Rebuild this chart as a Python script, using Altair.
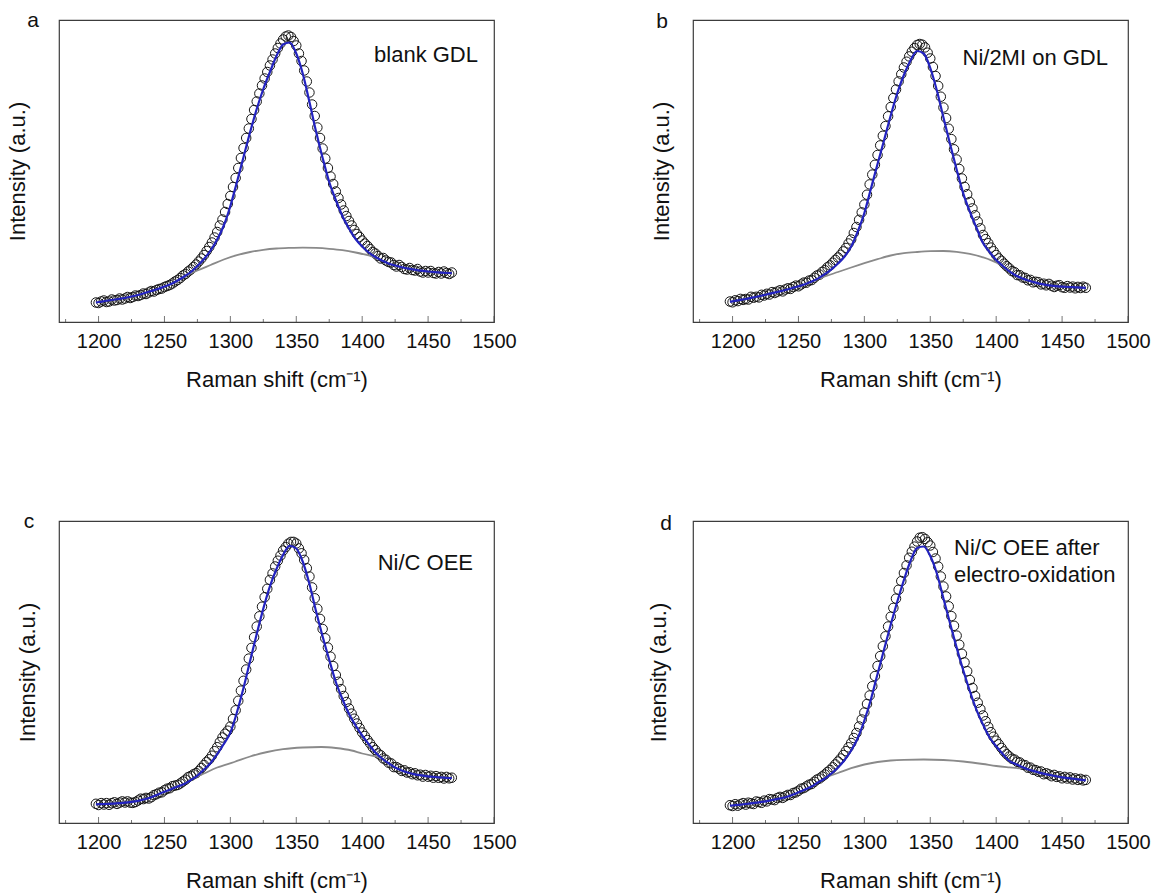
import altair as alt
import pandas as pd

# ---------------- data (intensity in arbitrary units) ----------------
SHIFT = [1198, 1200, 1202, 1204, 1206, 1208, 1210, 1212, 1214, 1216, 1218, 1220, 1222, 1224, 1226, 1228,
         1230, 1232, 1234, 1236, 1238, 1240, 1242, 1244, 1246, 1248, 1250, 1252, 1254, 1256, 1258,
         1260, 1262, 1264, 1266, 1268, 1270, 1272, 1274, 1276, 1278, 1280, 1282, 1284, 1286, 1288,
         1290, 1292, 1294, 1296, 1298, 1300, 1302, 1304, 1306, 1308, 1310, 1312, 1314, 1316, 1318,
         1320, 1322, 1324, 1326, 1328, 1330, 1332, 1334, 1336, 1338, 1340, 1342, 1344, 1346, 1348,
         1350, 1352, 1354, 1356, 1358, 1360, 1362, 1364, 1366, 1368, 1370, 1372, 1374, 1376, 1378,
         1380, 1382, 1384, 1386, 1388, 1390, 1392, 1394, 1396, 1398, 1400, 1402, 1404, 1406, 1408,
         1410, 1412, 1414, 1416, 1418, 1420, 1422, 1424, 1426, 1428, 1430, 1432, 1434, 1436, 1438,
         1440, 1442, 1444, 1446, 1448, 1450, 1452, 1454, 1456, 1458, 1460, 1462, 1464, 1466, 1468]

DATA_A = [19.5, 19, 20.5, 21.5, 20, 20.5, 22.5, 21.5, 22, 23.5, 22.5, 23.5, 25, 24, 25, 26.5,
          26, 27, 28.5, 28, 29.5, 31, 30.5, 32, 33, 33.5, 35, 36, 37, 38.5, 40.5,
          42, 44, 46.5, 48, 50.5, 52.5, 55, 57.5, 60.5, 63.5, 67, 71, 75, 79.5, 84.5,
          90, 96.5, 102.5, 110, 118, 126, 135, 144, 154, 164, 174, 184, 193.5, 203, 212,
          220.5, 228.5, 236.5, 243.5, 250, 256.5, 262.5, 268.5, 274, 278.5, 282.5, 285.5, 286.5, 285, 281,
          276.5, 268.5, 261, 251.5, 240.5, 229.5, 217.5, 206, 194.5, 184, 173.5, 163.5, 154, 145.5, 138,
          130.5, 124, 117.5, 111.5, 106, 101, 96.5, 92, 88, 85, 81.5, 78.5, 76, 73, 70,
          68.5, 66, 63.5, 64, 61.5, 60, 59.5, 57, 55.5, 57, 55, 53, 52.5, 54, 52,
          51.5, 53, 50.5, 49.5, 51, 49.5, 51, 49, 48.5, 50, 48.5, 50.5, 49, 48, 49.5]

DATA_B = [20.5, 19.7, 21.7, 20.9, 23.1, 22.1, 23, 22.5, 25.2, 24.3, 25.2, 24.6, 27.2, 26.5, 28.2, 27.5,
          29.9, 29, 30.4, 31.7, 30.6, 32.5, 33.7, 33.1, 35, 36.4, 35.7, 37.5, 39.4, 39.3, 41.4,
          41.9, 44.2, 46.5, 47.4, 50.1, 51.8, 54.7, 56.6, 59.3, 62.1, 64.5, 67.3, 70.6, 74, 78.5,
          82.5, 89, 95, 102.2, 109.6, 117.5, 127.3, 137.6, 147.4, 157.2, 167, 176.6, 186.2, 195.9, 205.7,
          215, 224, 232.5, 240.6, 247.8, 254.5, 260.3, 265.6, 270.3, 273.9, 277, 278, 277.3, 274.6, 269.3,
          263.5, 255, 246, 236.1, 225.3, 214.5, 203.9, 193.3, 182.9, 172.7, 162.5, 153, 143.5, 135.1, 127.8,
          120, 113.6, 106.7, 100.4, 93.7, 87, 82.9, 78.8, 74.4, 70.7, 67, 63.6, 61.2, 58.4, 55.8,
          53.6, 50.9, 49.8, 46.9, 46.7, 44.5, 44.1, 41.7, 42.1, 39.7, 40.2, 39.8, 37.6, 38.3, 36.7,
          38.1, 36.3, 35, 36.3, 36.8, 34.8, 34.2, 35.9, 34.5, 35.4, 33.7, 35.1, 34, 35.3, 34.2]

DATA_C = [19.2, 18, 19.9, 18.5, 19.9, 18.2, 19.8, 20.7, 19.1, 20.4, 21.6, 20.5, 21.6, 20.4, 20.1, 21,
          22.5, 24.3, 23.9, 25.1, 24.5, 25.8, 27.9, 28.8, 30.3, 30.7, 32.8, 34.3, 34.8, 36.8, 37.4,
          38, 39.5, 41.5, 43.3, 45.9, 47, 48.7, 49.9, 52, 55, 58, 61.1, 63.7, 67.3, 71.8,
          75.8, 80.9, 85.5, 89.3, 92.3, 96.4, 104.1, 112.7, 122.2, 132.4, 142.2, 153.5, 164.4, 175.1, 185.8,
          196.5, 206.7, 216.3, 225.8, 234.2, 243.1, 249.6, 256.5, 262.3, 267.4, 272.5, 275.9, 279.3, 281.1, 281.1,
          279.5, 274.6, 269.7, 263.1, 254.8, 246.5, 235.6, 224.7, 214.2, 204.1, 194, 184.7, 175.4, 166.3, 156.9,
          148, 141.2, 133.9, 127, 121, 114.5, 109.4, 104.3, 99.5, 95, 90.5, 87, 83, 79.6, 75.8,
          73, 69.6, 67.7, 64.6, 63.2, 60.3, 59.6, 55.9, 55.9, 54.3, 52.1, 52.7, 50.5, 50.8, 48.8,
          49.7, 47.7, 48.3, 46.4, 48, 46.3, 47.2, 45.3, 46.9, 45.2, 46.1, 44.5, 46.1, 44.7, 45.3]

DATA_D = [17.8, 17, 18.8, 17.3, 18.7, 19.9, 18.4, 20.3, 19.6, 19, 21.5, 21, 20.2, 22.4, 21.6, 23.9,
          23.5, 22.9, 25, 26.1, 25.1, 26.7, 28.1, 28, 30, 30.6, 32.2, 34.3, 34.9, 36.6, 38.3,
          39, 41.2, 43.4, 44.5, 46.5, 48.5, 51, 53, 55.7, 58.6, 61.5, 64.5, 68, 71.9, 75.7,
          80, 85, 90, 96.5, 103.5, 110.5, 119, 127.5, 136.8, 146.9, 157, 166.9, 176.8, 186.7, 196.5,
          206.3, 215.1, 224.4, 233.3, 241.9, 250, 257.6, 265.2, 271.3, 276.4, 281.5, 285.3, 285.8, 284.1, 280.8,
          277.5, 271, 264.5, 256.5, 246.5, 236.5, 226.6, 216.7, 206.9, 197.2, 187.4, 178.3, 169.2, 160.6, 151.8,
          143, 135, 127, 120.3, 113.9, 107.5, 101.8, 96.1, 90.8, 86.3, 82.3, 78.7, 75.1, 71.6, 68.8,
          66.5, 64.2, 63.4, 61.2, 60.5, 58.3, 57.8, 55.3, 55.4, 53.2, 52.9, 51.2, 51.5, 48.8, 49.7,
          48.6, 46.8, 48.1, 46.1, 46.7, 44.7, 46.1, 44.5, 45.6, 43.5, 44.6, 43.1, 44.1, 42.6, 43.1]

FIT_SHIFT = [1198, 1200, 1205, 1210, 1215, 1220, 1225, 1230, 1235, 1240, 1245, 1250, 1255, 1260, 1265,
             1270, 1275, 1280, 1285, 1290, 1295, 1300, 1305, 1310, 1315, 1320, 1325, 1330, 1335, 1340,
             1345, 1350, 1355, 1360, 1365, 1370, 1375, 1380, 1385, 1390, 1395, 1400, 1405, 1410, 1415,
             1420, 1425, 1430, 1435, 1440, 1445, 1450, 1455, 1460, 1465, 1468]

FIT_A = [19.5, 20, 21, 22, 23, 24, 25.5, 27, 29, 31, 33, 35.5, 38, 41.5, 45.5,
         50, 56, 63, 71.5, 82.5, 96.5, 116, 140, 165, 190, 213, 233, 250, 266, 277.5,
         279.5, 268.5, 248, 220, 190.5, 164, 140, 122, 106, 93.5, 83, 75.5, 69.5, 65, 61.5,
         58.5, 56.5, 54.7, 53.3, 52.3, 51.3, 50.5, 49.9, 49.4, 49, 48.8]

FIT_B = [20.3, 20.7, 21.9, 23, 24.3, 25.8, 27.3, 28.9, 30.4, 32, 33.8, 35.7, 37.8, 40.4, 43.6,
         47.8, 52.6, 58.5, 65.5, 75.5, 90.5, 109, 133.5, 158, 182, 206.5, 229, 247, 261.5, 271,
         268.5, 254, 231.5, 204.5, 178, 152.5, 128.7, 110.5, 94.5, 79, 70, 62, 56, 50.6, 46.5,
         43.5, 41.3, 39.4, 37.8, 36.6, 35.9, 35.4, 35, 34.7, 34.4, 34.2]

FIT_C = [18.7, 18.8, 19, 19.3, 19.8, 20.3, 21.1, 22.2, 23.7, 25.8, 28.6, 31.3, 33.8, 36.5, 39,
         43, 47.3, 53.5, 60, 68.8, 79, 90.4, 110.8, 135.2, 162.3, 189, 214.4, 236.6, 254, 268,
         277.2, 274.5, 261, 239, 211.7, 186.5, 163.2, 141, 124, 109, 97.5, 87.5, 78.8, 70.5, 64.5,
         59.8, 55.5, 52.6, 50.3, 48.7, 47.6, 46.6, 46, 45.5, 45, 44.8]

FIT_D = [17.3, 17.5, 18.2, 19, 19.8, 20.6, 21.6, 23, 24.3, 25.7, 28, 30.7, 33.5, 36.5, 40.7,
         44.5, 49.5, 55.5, 63, 72.5, 85, 102.5, 123.8, 149, 173.8, 198.3, 221.5, 243, 262, 275,
         276.5, 267, 249.5, 224.5, 199.8, 175.4, 152.7, 132, 113.3, 98.5, 85.5, 76.8, 69, 62, 58.8,
         55.8, 53.3, 51.4, 49.6, 48.1, 46.9, 45.7, 44.8, 44, 43.1, 42.6]

BG_A_X = [1266, 1275, 1285, 1295, 1305, 1315, 1325, 1335, 1345, 1355, 1365, 1375, 1385, 1395, 1405, 1412]
BG_A = [46.3, 51.5, 57, 62.5, 66.8, 70, 72.2, 73.5, 74.1, 74.4, 74.1, 73.2, 71.8, 69.5, 66.5, 63.6]
BG_B_X = [1261, 1270, 1280, 1290, 1300, 1310, 1320, 1330, 1340, 1350, 1360, 1370, 1380, 1390, 1400, 1408]
BG_B = [41.1, 45.5, 50, 54.5, 58.8, 62.8, 66.5, 68.8, 70, 70.8, 71, 70.2, 68.2, 64.7, 59.5, 52.8]
BG_C_X = [1272, 1280, 1290, 1303, 1315, 1328, 1340, 1355, 1369, 1380, 1392, 1400, 1408, 1414]
BG_C = [44.7, 49.5, 55.5, 61, 66.5, 71, 73.8, 75.5, 76, 75, 72.5, 69.5, 67.2, 65.6]
BG_D_X = [1272, 1280, 1290, 1300, 1310, 1320, 1330, 1345, 1360, 1375, 1390, 1400, 1410, 1418]
BG_D = [46.3, 50, 54.8, 58.5, 61, 62.5, 63.2, 63.5, 63, 61.5, 59, 57, 55.6, 54.6]

MAJOR_TICKS = [1200, 1250, 1300, 1350, 1400, 1450, 1500]
MINOR_TICKS = [1175, 1225, 1275, 1325, 1375, 1425, 1475]

for arr in (DATA_A, DATA_B, DATA_C, DATA_D):
    assert len(arr) == len(SHIFT), len(arr)
for arr in (FIT_A, FIT_B, FIT_C, FIT_D):
    assert len(arr) == len(FIT_SHIFT), len(arr)

FONT = "Liberation Sans"
W, H = 435, 302


def panel(data, fit, bgx, bg, letter, notes, ytitle_pad):
    xs = alt.Scale(domain=[1170, 1500], nice=False, zero=False)
    ys = alt.Scale(domain=[0, 302], nice=False, zero=False)
    X = alt.X("shift:Q", scale=xs, title="Raman shift (cm\u207b\u00b9)",
              axis=alt.Axis(values=MAJOR_TICKS, ticks=False, domain=False, grid=False,
                            labelPadding=9, titlePadding=18, labelFontSize=20, titleFontSize=22,
                            labelOverlap=False, labelFlush=False, format="d"))
    Y = alt.Y("intensity:Q", scale=ys, title="Intensity (a.u.)",
              axis=alt.Axis(labels=False, ticks=False, domain=False, grid=False,
                            titlePadding=ytitle_pad, titleFontSize=22))

    pts = alt.Chart(pd.DataFrame({"shift": SHIFT, "intensity": data})).mark_point(
        shape="circle", filled=False, size=90, color="#161616", strokeWidth=1.0, opacity=1
    ).encode(x=X, y=Y)
    bgl = alt.Chart(pd.DataFrame({"shift": bgx, "intensity": bg})).mark_line(
        color="#8a8a8a", strokeWidth=1.8, interpolate="monotone"
    ).encode(x=X, y=Y)
    fitl = alt.Chart(pd.DataFrame({"shift": FIT_SHIFT, "intensity": fit})).mark_line(
        color="#2323c0", strokeWidth=2.2, interpolate="monotone"
    ).encode(x=X, y=Y)
    major = alt.Chart(pd.DataFrame({"shift": MAJOR_TICKS})).mark_tick(
        size=6, thickness=1, color="#3c3c3c"
    ).encode(x=X, y=alt.value(H - 3))
    minor = alt.Chart(pd.DataFrame({"shift": MINOR_TICKS})).mark_tick(
        size=3, thickness=1, color="#3c3c3c"
    ).encode(x=X, y=alt.value(H - 1.5))

    layers = [pts, bgl, fitl, major, minor]
    lx, ly = letter[1], letter[2]
    layers.append(
        alt.Chart(pd.DataFrame({"t": [letter[0]]})).mark_text(
            fontSize=21, font=FONT, align="center", baseline="alphabetic", color="#111111"
        ).encode(text="t:N", x=alt.value(lx), y=alt.value(ly))
    )
    for txt, nx, ny, al in notes:
        layers.append(
            alt.Chart(pd.DataFrame({"t": [txt]})).mark_text(
                fontSize=22, font=FONT, align=al, baseline="alphabetic", color="#111111"
            ).encode(text="t:N", x=alt.value(nx), y=alt.value(ny))
        )
    return alt.layer(*layers).properties(width=W, height=H)


pa = panel(DATA_A, FIT_A, BG_A_X, BG_A, ("a", -26, 7), [("blank GDL", 419, 42, "right")], 30)
pb = panel(DATA_B, FIT_B, BG_B_X, BG_B, ("b", -31, 8), [("Ni/2MI on GDL", 415, 45, "right")], 20)
pc = panel(DATA_C, FIT_C, BG_C_X, BG_C, ("c", -30, 7), [("Ni/C OEE", 414, 49, "right")], 20)
pd_ = panel(DATA_D, FIT_D, BG_D_X, BG_D, ("d", -27, 9),
            [("Ni/C OEE after", 261, 34, "left"), ("electro-oxidation", 261, 61, "left")], 23)

chart = alt.concat(pa, pb, pc, pd_, columns=2, spacing=199, bounds="flush").properties(
    padding={"left": 5, "top": 9, "right": 2, "bottom": 2},
    background="white",
).configure_view(
    stroke="#3c3c3c", strokeWidth=1.2
).configure_axis(
    labelFont=FONT, titleFont=FONT, labelColor="#111111", titleColor="#111111",
    titleFontWeight="normal"
)

chart.save("out.html", embed_options={"renderer": "svg", "actions": False})
